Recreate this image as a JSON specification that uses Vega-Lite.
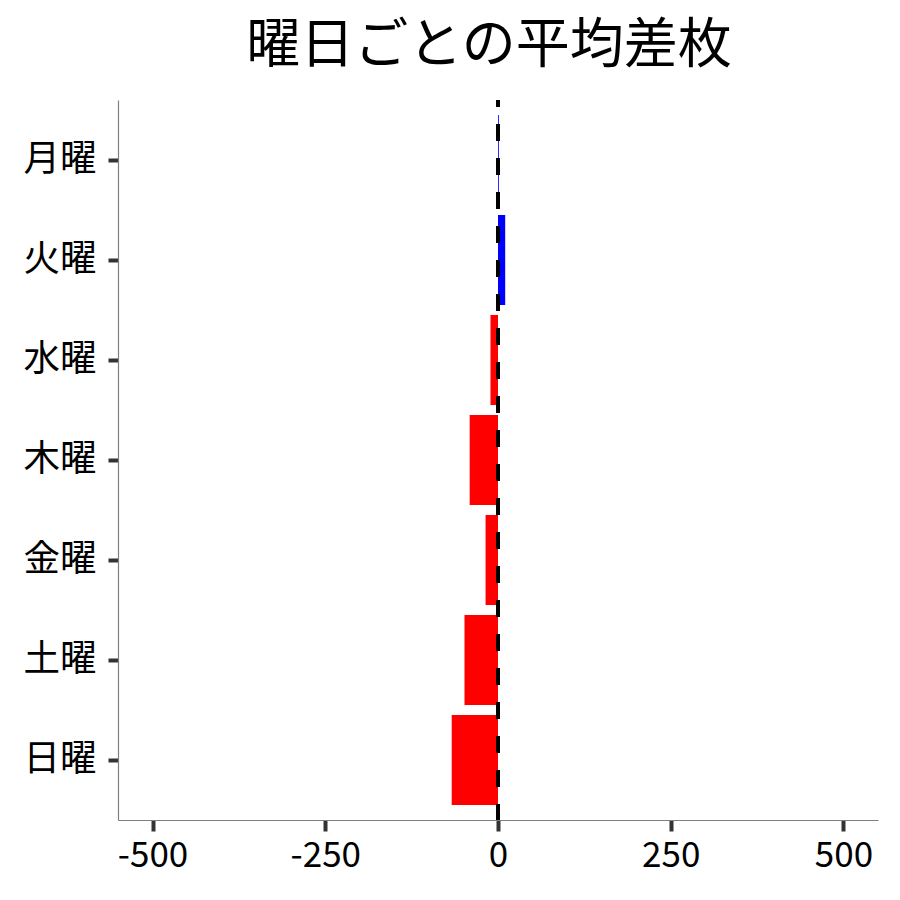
{
  "$schema": "https://vega.github.io/schema/vega-lite/v6.json",
  "width": 760,
  "height": 720,
  "autosize": {"type": "none"},
  "padding": {"left": 118, "top": 100, "right": 22, "bottom": 80},
  "background": "white",
  "config": {
    "view": {"stroke": null},
    "font": "Noto Sans CJK JP"
  },
  "title": {
    "text": "曜日ごとの平均差枚",
    "fontSize": 54,
    "fontWeight": "normal",
    "font": "Noto Sans CJK JP",
    "color": "#000000",
    "anchor": "middle",
    "frame": "group",
    "baseline": "alphabetic",
    "offset": 38,
    "dx": -9,
    "dy": 57
  },
  "data": {
    "values": [
      {"day": "月曜", "value": 1.2},
      {"day": "火曜", "value": 10.4},
      {"day": "水曜", "value": -10.9},
      {"day": "木曜", "value": -41},
      {"day": "金曜", "value": -18},
      {"day": "土曜", "value": -48.5},
      {"day": "日曜", "value": -67}
    ]
  },
  "layer": [
    {
      "mark": {"type": "bar"},
      "encoding": {
        "y": {
          "field": "day",
          "type": "nominal",
          "sort": ["月曜", "火曜", "水曜", "木曜", "金曜", "土曜", "日曜"],
          "scale": {"paddingInner": 0.1, "paddingOuter": 0.15},
          "axis": {
            "title": null,
            "labelFontSize": 36.5,
            "labelColor": "#000000",
            "labelFont": "Noto Sans CJK JP",
            "labelPadding": 12,
            "tickColor": "#333333",
            "tickWidth": 4,
            "tickSize": 10,
            "domainColor": "#808080",
            "domainWidth": 1.2,
            "grid": false
          }
        },
        "x": {
          "field": "value",
          "type": "quantitative",
          "scale": {"domain": [-550, 550], "nice": false, "zero": false},
          "axis": {
            "title": null,
            "values": [-500, -250, 0, 250, 500],
            "labelExpr": "'' + datum.value",
            "labelFontSize": 35,
            "labelColor": "#000000",
            "labelFont": "Noto Sans CJK JP",
            "labelPadding": 7,
            "tickColor": "#333333",
            "tickWidth": 4,
            "tickSize": 11,
            "domainColor": "#808080",
            "domainWidth": 1.2,
            "grid": false
          }
        },
        "color": {
          "condition": {"test": "datum.value < 0", "value": "#FF0000"},
          "value": "#0000FF"
        }
      }
    },
    {
      "mark": {"type": "rule", "color": "#000000", "strokeWidth": 3.5, "strokeDash": [17, 17], "strokeDashOffset": 10},
      "encoding": {
        "x": {"datum": 0, "type": "quantitative"}
      }
    }
  ]
}
